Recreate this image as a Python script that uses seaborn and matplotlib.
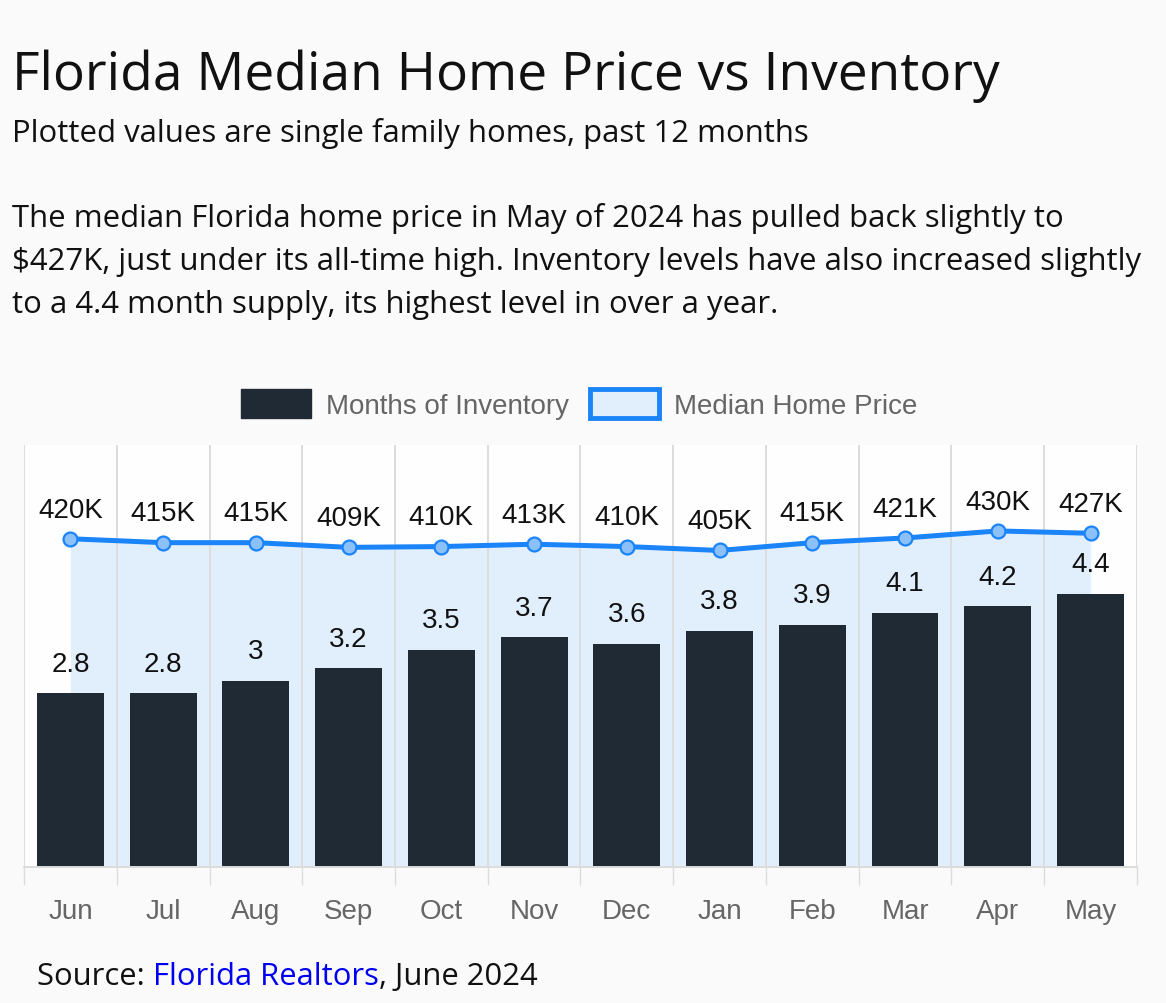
"""Florida median home price vs months of inventory (past 12 months)."""

import matplotlib.pyplot as plt
import numpy as np
import seaborn as sns
from matplotlib.patches import Patch

sns.set_theme(style="white")
plt.rcParams["font.family"] = ["Liberation Sans", "DejaVu Sans"]

months = ["Jun", "Jul", "Aug", "Sep", "Oct", "Nov", "Dec", "Jan", "Feb", "Mar", "Apr", "May"]
inventory = [2.8, 2.8, 3.0, 3.2, 3.5, 3.7, 3.6, 3.8, 3.9, 4.1, 4.2, 4.4]
median_price = [420000, 415000, 415000, 409000, 410000, 413000, 410000, 405000, 415000, 421000, 430000, 427000]

BAR = "#1f2a35"
LINE = "#1a84f8"
FILL = "#e1eefc"
GRID = "#dcdcdc"
MUTED = "#666666"
BG = "#fafafa"

fig = plt.figure(figsize=(11.66, 10.04), dpi=100, facecolor=BG)
ax = fig.add_axes([0.0206, 0.1355, 0.9545, 0.4203])
ax2 = ax.twinx()
ax.set_zorder(ax2.get_zorder() + 1)
ax.patch.set_visible(False)
ax2.patch.set_visible(True)
ax2.patch.set_facecolor("#fefefe")

x_pos = np.arange(len(months))

# price area + line (behind the bars)
ax2.fill_between(x_pos, median_price, 0, color=FILL, lw=0, zorder=0)
for b in np.arange(len(months) + 1) - 0.5:
    ax2.axvline(b, color=GRID, lw=1.4, zorder=1)
sns.lineplot(x=x_pos, y=median_price, ax=ax2, color=LINE, lw=3.6, marker="o",
             markersize=10, markerfacecolor="#8cc0f8", markeredgecolor=LINE,
             markeredgewidth=1.6, zorder=3)
for xi, p in zip(x_pos, median_price):
    ax2.annotate(f"{p // 1000}K", (xi, p), xytext=(0, 16), textcoords="offset points",
                 ha="center", va="baseline", fontsize=20, color="#111111")
ax2.set_ylim(0, 540000)
ax2.set_yticks([])
ax2.set_ylabel("")

# inventory bars
sns.barplot(x=months, y=inventory, ax=ax, color=BAR, saturation=1, width=0.72,
            edgecolor=BAR, linewidth=0)
ax.bar_label(ax.containers[0], labels=[f"{v:g}" for v in inventory], padding=12,
             fontsize=20, color="#111111")
ax.set_ylim(0, 6.8)
ax.set_xlim(-0.5, len(months) - 0.5)
ax.set_yticks([])
ax.set_xlabel("")
ax.set_ylabel("")
ax.set_xticks(x_pos, months)
ax.set_xticks(np.arange(len(months) + 1) - 0.5, minor=True)
ax.tick_params(axis="x", which="major", length=0, pad=22, labelsize=20, labelcolor=MUTED)
ax.tick_params(axis="x", which="minor", length=13, width=1, color=GRID, bottom=True)

for a in (ax, ax2):
    for side in ("top", "left", "right"):
        a.spines[side].set_visible(False)
    a.spines["bottom"].set_color(GRID)
    a.spines["bottom"].set_linewidth(1.4)

# legend
handles = [
    Patch(facecolor=BAR, edgecolor=BAR, label="Months of Inventory"),
    Patch(facecolor=FILL, edgecolor=LINE, linewidth=3.5, label="Median Home Price"),
]
fig.legend(handles=handles, loc="center", bbox_to_anchor=(0.497, 0.597), ncol=2,
           frameon=False, fontsize=20, labelcolor=MUTED, handlelength=2.5,
           handleheight=1.25, handletextpad=0.55, columnspacing=0.75)

# header text
head = ["Open Sans", "DejaVu Sans"]
fig.text(12 / 1166, 1 - 90 / 1004, "Florida Median Home Price vs Inventory",
         family=head, fontsize=38.3, color="#111111", va="baseline")
fig.text(12 / 1166, 1 - 142 / 1004, "Plotted values are single family homes, past 12 months",
         family=head, fontsize=22.4, color="#111111", va="baseline")
para = [
    "The median Florida home price in May of 2024 has pulled back slightly to",
    "$427K, just under its all-time high. Inventory levels have also increased slightly",
    "to a 4.4 month supply, its highest level in over a year.",
]
for i, line in enumerate(para):
    fig.text(12 / 1166, 1 - (227 + 43 * i) / 1004, line, family=head, fontsize=22.4,
             color="#111111", va="baseline")

# source line
t1 = fig.text(37 / 1166, 1 - 985 / 1004, "Source: ", family=head, fontsize=22.3,
              color="#111111", va="baseline")
t2 = ax.annotate("Florida Realtors", xy=(1, 0), xycoords=t1, va="bottom", ha="left",
                 family=head, fontsize=22.3, color="#0000ee", annotation_clip=False)
ax.annotate(", June 2024", xy=(1, 0), xycoords=t2, va="bottom", ha="left",
            family=head, fontsize=22.3, color="#111111", annotation_clip=False)

fig.savefig("out.png", dpi=100, facecolor=BG)
